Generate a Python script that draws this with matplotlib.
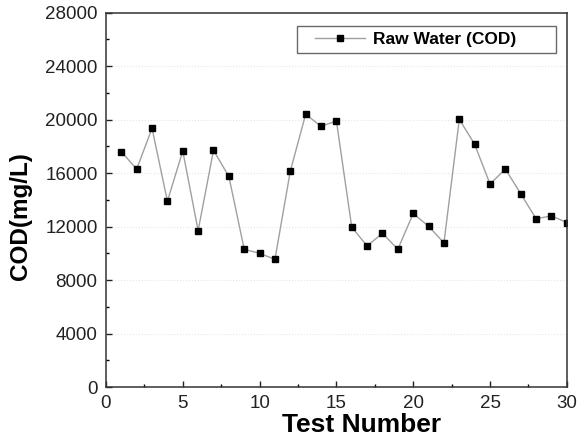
import numpy as np
import matplotlib
matplotlib.use("Agg")
import matplotlib.pyplot as plt
from matplotlib.ticker import MultipleLocator
from matplotlib.legend_handler import HandlerLine2D

plt.rcParams['font.family'] = ['Liberation Sans', 'DejaVu Sans']

# raw water COD per test run
test_no = list(range(1, 31))
cod = [17600, 16300, 19350, 13900, 17650, 11700, 17700, 15750, 10300, 10000,
       9550, 16150, 20400, 19500, 19900, 11950, 10550, 11500, 10300, 12980,
       12020, 10780, 20020, 18150, 15180, 16300, 14450, 12580, 12800, 12300]

fig = plt.figure(figsize=(5.79, 4.42), dpi=100)
ax = fig.add_axes([0.183, 0.1244, 0.796, 0.847])

line, = ax.plot(test_no, cod, '-', color='#a0a0a0', lw=1.0,
                marker='s', ms=4.5, mfc='black', mec='black', label='Raw Water (COD)')

ax.set_xlim(0, 30)
ax.set_ylim(0, 28000)
ax.xaxis.set_major_locator(MultipleLocator(5))
ax.xaxis.set_minor_locator(MultipleLocator(2.5))
ax.yaxis.set_major_locator(MultipleLocator(4000))
ax.yaxis.set_minor_locator(MultipleLocator(2000))
ax.tick_params(which='both', direction='in', top=False, right=False)
ax.tick_params(which='major', length=4, width=1, labelsize=13.5, colors='#222222', pad=6)
ax.tick_params(which='minor', length=2.5, width=1)
for s in ax.spines.values():
    s.set_linewidth(1.1)
    s.set_color('#333333')

ax.grid(axis='y', which='major', color='#e6e6e6', ls=':', lw=0.8)

ax.set_xlabel('Test Number', fontsize=19, fontweight='bold')
ax.set_ylabel('COD(mg/L)', fontsize=17.5, fontweight='bold')
ax.xaxis.set_label_coords(0.555, -0.069)
ax.yaxis.set_label_coords(-0.161, 0.456)

# wide legend box, text left aligned like the original
leg = ax.legend(loc='upper left', bbox_to_anchor=(0.414, 0, 0.562, 0.965), mode='expand',
                borderaxespad=0, prop={'size': 12.5, 'weight': 'bold'},
                fancybox=False, edgecolor='#444444', handlelength=3.57, handletextpad=0.46,
                borderpad=0.35, handler_map={line: HandlerLine2D(xpad=0.69)})
leg.get_frame().set_linewidth(1.0)

fig.savefig("out.png", dpi=100)
